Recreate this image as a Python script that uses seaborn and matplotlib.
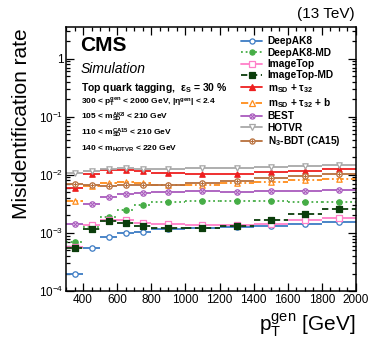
import matplotlib
matplotlib.use("Agg")
import matplotlib.pyplot as plt
import matplotlib.ticker as mticker
from matplotlib.lines import Line2D
import numpy as np
import seaborn as sns

# pT bins (GeV)
bin_edges = [300, 400, 500, 600, 700, 800, 1000, 1200, 1400, 1600, 1800, 2000]

# misidentification rate per bin
deepak8 = [0.0002, 0.00056, 0.00084, 0.0010, 0.00105, 0.00115, 0.0012, 0.00127, 0.00133, 0.00145, 0.00153]
deepak8_md = [0.00071, 0.00125, 0.0019, 0.0025, 0.0030, 0.0034, 0.0036, 0.0035, 0.0035, 0.0034, 0.0034]
imagetop = [0.00058, 0.00135, 0.0017, 0.00168, 0.00148, 0.0014, 0.00136, 0.00135, 0.00145, 0.0017, 0.0018]
imagetop_md = [0.00056, 0.00117, 0.0016, 0.0015, 0.00134, 0.0012, 0.0012, 0.0013, 0.0017, 0.0021, 0.0026]
msd_tau32 = [0.0060, 0.0102, 0.0122, 0.0122, 0.0115, 0.0108, 0.0104, 0.0105, 0.0110, 0.0116, 0.0124]
msd_tau32_b = [0.0035, 0.0063, 0.0072, 0.0076, 0.0072, 0.0068, 0.0068, 0.0072, 0.0075, 0.0080, 0.0085]
best = [0.0014, 0.0031, 0.0042, 0.0046, 0.0048, 0.0051, 0.0052, 0.0051, 0.0052, 0.0052, 0.0055]
hotvr = [0.0108, 0.0118, 0.0128, 0.0130, 0.0128, 0.0128, 0.0130, 0.0133, 0.0138, 0.0143, 0.0148]
n3_bdt = [0.0070, 0.0066, 0.0063, 0.0066, 0.0067, 0.0068, 0.0072, 0.0078, 0.0088, 0.0094, 0.0102]

labels = ["DeepAK8", "DeepAK8-MD", "ImageTop", "ImageTop-MD",
          r"$\mathbf{m}_{\mathbf{SD}}$ + $\mathbf{\tau}_{\mathbf{32}}$",
          r"$\mathbf{m}_{\mathbf{SD}}$ + $\mathbf{\tau}_{\mathbf{32}}$ + b",
          "BEST", "HOTVR", r"N$_{\mathbf{3}}$-BDT (CA15)"]

# (values, color, marker, filled, linestyle, overlay marker)
styles = [
    (deepak8, "#3d7cc4", "o", False, "-", None),
    (deepak8_md, "#46ad46", "o", True, (0, (1, 1.6)), None),
    (imagetop, "#ff7fc8", "s", False, "-", None),
    (imagetop_md, "#0b3d0b", "s", True, (0, (3.5, 2)), None),
    (msd_tau32, "#ee2020", "^", True, "-", None),
    (msd_tau32_b, "#ff8c1a", "^", False, (0, (4, 1.5, 1, 1.5)), None),
    (best, "#a95bbd", "o", False, "-", "x"),
    (hotvr, "#a8a8a8", "v", False, "-", None),
    (n3_bdt, "#b8703c", "o", False, "-", "+"),
]

sns.set_theme(style="ticks")
plt.rcParams["font.family"] = ["Liberation Sans", "DejaVu Sans"]
plt.rcParams["mathtext.fontset"] = "custom"
plt.rcParams["mathtext.rm"] = "Liberation Sans"
plt.rcParams["mathtext.it"] = "Liberation Sans:italic"
plt.rcParams["mathtext.bf"] = "Liberation Sans:bold"
plt.rcParams["text.color"] = "black"
plt.rcParams["axes.labelcolor"] = "black"

edges = np.array(bin_edges, dtype=float)
lo, hi = edges[:-1], edges[1:]
centers = (lo + hi) / 2

fig = plt.figure(figsize=(3.74, 3.43), dpi=100)
ax = fig.add_axes([0.1765, 0.1516, 0.7754, 0.7697])

handles = []
for vals, c, m, filled, ls, extra in styles:
    ax.hlines(vals, lo, hi, colors=c, linestyles=ls, lw=1.3, zorder=2)
    sns.scatterplot(x=centers, y=vals, marker=m, s=15, ax=ax, zorder=3,
                    facecolor=c if filled else "white", edgecolor=c,
                    linewidth=0.9, legend=False)
    h = Line2D([], [], color=c, ls=ls, lw=1.3, marker=m, ms=3.7,
               mfc=c if filled else "white", mec=c, mew=0.9)
    if extra:
        sns.scatterplot(x=centers, y=vals, marker=extra, s=9, ax=ax, zorder=4,
                        color=c, linewidth=0.8, legend=False)
        h = (h, Line2D([], [], color=c, ls="none", marker=extra, ms=3.0, mew=0.8))
    handles.append(h)

ax.set_yscale("log")
ax.set_xlim(300, 2000)
ax.set_ylim(1e-4, 3.5)

ax.xaxis.set_major_locator(mticker.MultipleLocator(200))
ax.xaxis.set_minor_locator(mticker.MultipleLocator(50))
ax.yaxis.set_major_locator(mticker.FixedLocator([1e-4, 1e-3, 1e-2, 1e-1, 1]))
ax.yaxis.set_minor_locator(mticker.LogLocator(base=10, subs=np.arange(2, 10)))
ax.yaxis.set_minor_formatter(mticker.NullFormatter())


def ylab(v, pos):
    e = int(round(np.log10(v)))
    return "1" if e == 0 else rf"$10^{{{e}}}$"


ax.yaxis.set_major_formatter(mticker.FuncFormatter(ylab))
ax.tick_params(which="both", direction="in", top=True, right=True, width=0.9,
               colors="black", labelsize=8.5, pad=2)
ax.tick_params(which="major", length=6)
ax.tick_params(which="minor", length=3)
for s in ax.spines.values():
    s.set_linewidth(1.1)
    s.set_color("black")
ax.set_xlabel("")
ax.set_ylabel("")

leg = ax.legend(handles, labels, loc="upper left", bbox_to_anchor=(0.605, 0.965),
                frameon=False, prop={"weight": "bold", "size": 7.3},
                handlelength=2.0, handletextpad=0.6, labelspacing=0.14,
                borderpad=0, borderaxespad=0, numpoints=1)

ax.text(0.05, 0.93, "CMS", transform=ax.transAxes, fontsize=15, fontweight="bold", va="center")
ax.text(0.05, 0.84, "Simulation", transform=ax.transAxes, fontsize=10, style="italic", va="center")
ax.text(0.05, 0.77, r"Top quark tagging,  $\mathbf{\epsilon}_{\mathbf{S}}$ = 30 %",
        transform=ax.transAxes, fontsize=7.5, fontweight="bold", va="center")
info = [r"300 < p$_{\mathbf{T}}^{\mathbf{gen}}$ < 2000 GeV, |$\mathbf{\eta}^{\mathbf{gen}}$| < 2.4",
        r"105 < m$_{\mathbf{SD}}^{\mathbf{AK8}}$ < 210 GeV",
        r"110 < m$_{\mathbf{SD}}^{\mathbf{CA15}}$ < 210 GeV",
        r"140 < m$_{\mathbf{HOTVR}}$ < 220 GeV"]
for i, t in enumerate(info):
    ax.text(0.05, (291 - (102 + 15.7 * i)) / 264, t, transform=ax.transAxes,
            fontsize=6, fontweight="bold", va="center")

fig.text(355 / 374, 1 - 14 / 343, "(13 TeV)", ha="right", va="center", fontsize=11)
fig.text(22 / 374, 1 - 28 / 343, "Misidentification rate", rotation=90,
         ha="center", va="top", fontsize=15)
fig.text(355 / 374, 1 - 331 / 343, r"p$_{\mathrm{T}}^{\mathrm{gen}}$ [GeV]",
         ha="right", va="baseline", fontsize=15)

fig.savefig("out.png", dpi=100)
plt.close(fig)
